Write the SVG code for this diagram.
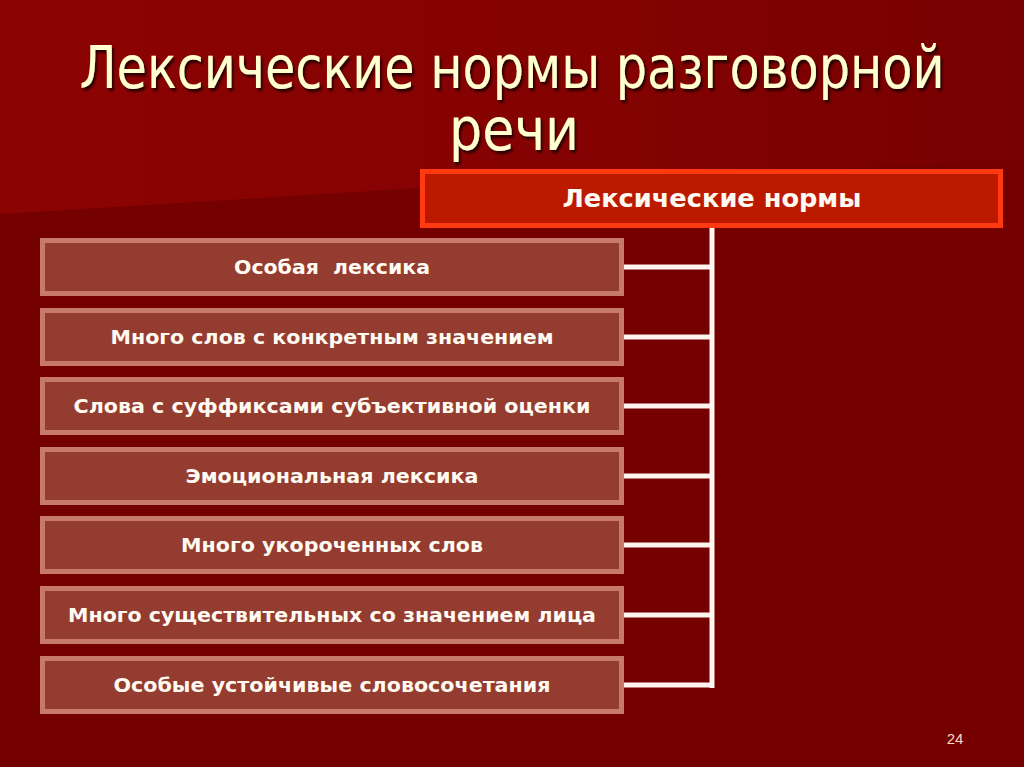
<svg xmlns="http://www.w3.org/2000/svg" width="1024" height="767" viewBox="0 0 1024 767">
<defs>
<linearGradient id="top" x1="0" y1="0" x2="1" y2="0">
<stop offset="0" stop-color="#8c0303"/>
<stop offset="0.55" stop-color="#850202"/>
<stop offset="1" stop-color="#770000"/>
</linearGradient>
<filter id="sh" x="-5%" y="-5%" width="110%" height="120%">
<feDropShadow dx="2" dy="3" stdDeviation="1" flood-color="#200000" flood-opacity="0.9"/>
</filter>
<style>
.title{font-family:"DejaVu Sans Condensed","DejaVu Sans",sans-serif;font-size:58px;fill:#ffffd0;text-anchor:middle}
.item rect{fill:#943c30;stroke:#c87a6a;stroke-width:5}
.item text{font-family:"DejaVu Sans",sans-serif;font-weight:bold;font-size:19.5px;fill:#fffaf2;text-anchor:middle}
.conn line{stroke:#fff4ee;stroke-width:5}
</style>
</defs>
<rect width="1024" height="767" fill="#740000"/>
<polygon points="0,0 1024,0 1024,160 420,188 0,214" fill="url(#top)"/>
<g filter="url(#sh)">
<text class="title" x="512" y="88" textLength="865" lengthAdjust="spacingAndGlyphs">Лексические нормы разговорной</text>
<text class="title" x="514" y="150">речи</text>
</g>
<g id="conn" class="conn">
<line x1="712" y1="228" x2="712" y2="688"/>
<line x1="624" y1="267" x2="714" y2="267"/>
<line x1="624" y1="337" x2="714" y2="337"/>
<line x1="624" y1="406" x2="714" y2="406"/>
<line x1="624" y1="476" x2="714" y2="476"/>
<line x1="624" y1="545" x2="714" y2="545"/>
<line x1="624" y1="615" x2="714" y2="615"/>
<line x1="624" y1="685" x2="714" y2="685"/>
</g>
<g id="root">
<rect x="422.5" y="171.5" width="578" height="54" fill="#bb1a00" stroke="#ff3a10" stroke-width="5"/>
<text x="712" y="207" textLength="299" lengthAdjust="spacingAndGlyphs" font-family="DejaVu Sans Condensed,DejaVu Sans,sans-serif" font-weight="bold" font-size="24" fill="#fffaf2" text-anchor="middle">Лексические нормы</text>
</g>
<g id="n1" class="item"><rect x="42.5" y="240.5" width="579" height="53"/><text x="332" y="274" xml:space="preserve" textLength="196" lengthAdjust="spacingAndGlyphs">Особая  лексика</text></g>
<g id="n2" class="item"><rect x="42.5" y="310.5" width="579" height="53"/><text x="332" y="344" textLength="443" lengthAdjust="spacingAndGlyphs">Много слов с конкретным значением</text></g>
<g id="n3" class="item"><rect x="42.5" y="379.5" width="579" height="53"/><text x="332" y="413" textLength="517" lengthAdjust="spacingAndGlyphs">Слова с суффиксами субъективной оценки</text></g>
<g id="n4" class="item"><rect x="42.5" y="449.5" width="579" height="53"/><text x="332" y="483" textLength="293" lengthAdjust="spacingAndGlyphs">Эмоциональная лексика</text></g>
<g id="n5" class="item"><rect x="42.5" y="518.5" width="579" height="53"/><text x="332" y="552" textLength="302" lengthAdjust="spacingAndGlyphs">Много укороченных слов</text></g>
<g id="n6" class="item"><rect x="42.5" y="588.5" width="579" height="53"/><text x="332" y="622" textLength="528" lengthAdjust="spacingAndGlyphs">Много существительных со значением лица</text></g>
<g id="n7" class="item"><rect x="42.5" y="658.5" width="579" height="53"/><text x="332" y="692" textLength="437" lengthAdjust="spacingAndGlyphs">Особые устойчивые словосочетания</text></g>
<text x="955" y="744" font-family="Liberation Sans,sans-serif" font-size="15" fill="#ffd8c8" text-anchor="middle">24</text>
</svg>
